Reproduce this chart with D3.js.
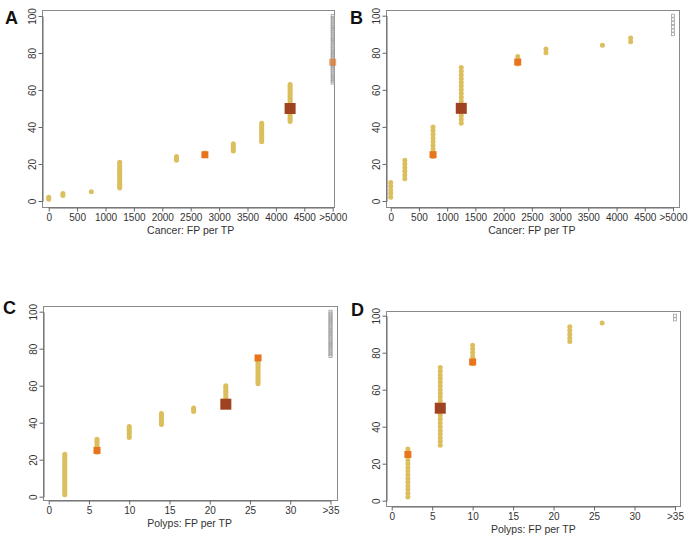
<!DOCTYPE html>
<html>
<head>
<meta charset="utf-8">
<script src="https://cdn.jsdelivr.net/npm/d3@7"></script>
<style>
  body { margin: 0; background: #fff; }
  svg { display: block; }
  .tick text, .xtitle { font-family: "Liberation Sans Narrow", "Arial Narrow", "Liberation Sans", sans-serif; fill: #333; }
  .plabel { font-family: "Liberation Sans", Arial, sans-serif; font-weight: bold; font-size: 18px; fill: #111; }
</style>
</head>
<body>
<svg id="chart"></svg>
<script>
var width = 691;
var height = 540;

// x bins (FP per TP) and the percentiles that fall in each bin
var cancerTicks = [0, 500, 1000, 1500, 2000, 2500, 3000, 3500, 4000, 4500, 5000];
var cancerTickLabels = ["0", "500", "1000", "1500", "2000", "2500", "3000", "3500", "4000", "4500", ">5000"];
var polypTicks = [0, 5, 10, 15, 20, 25, 30, 35];
var polypTickLabels = ["0", "5", "10", "15", "20", "25", "30", ">35"];
var yTicks = [0, 20, 40, 60, 80, 100];

var binsA = [0, 250, 750, 1250, 2250, 2750, 3250, 3750, 4250];
var pctA = [
    [1, 2],
    [3, 4],
    [5],
    [7, 8, 9, 10, 11, 12, 13, 14, 15, 16, 17, 18, 19, 20, 21],
    [22, 23, 24],
    [25, 26],
    [27, 28, 29, 30, 31],
    [32, 33, 34, 35, 36, 37, 38, 39, 40, 41, 42],
    [43, 44, 45, 46, 47, 48, 49, 50, 51, 52, 53, 54, 55, 56, 57, 58, 59, 60, 61, 62, 63]
];
var overA = [64, 65, 66, 67, 68, 69, 70, 71, 72, 73, 74, 75, 76, 77, 78, 79, 80, 81, 82,
             83, 84, 85, 86, 87, 88, 89, 90, 91, 92, 93, 94, 95, 96, 97, 98, 99, 100];
var quartA = [[2750, 25], [4250, 50], [5000, 75]];

var binsB = [0, 250, 750, 1250, 2250, 2750, 3750, 4250];
var pctB = [
    [2, 4, 6, 8, 10],
    [12, 14, 16, 18, 20, 22],
    [24, 26, 28, 30, 32, 34, 36, 38, 40],
    [42, 44, 46, 48, 50, 52, 54, 56, 58, 60, 62, 64, 66, 68, 70, 72],
    [74, 76, 78],
    [80, 82],
    [84],
    [86, 88]
];
var overB = [90, 92, 94, 96, 98, 100];
var quartB = [[750, 25], [1250, 50], [2250, 75]];

var binsC = [2, 6, 10, 14, 18, 22, 26];
var pctC = [
    [1, 2, 3, 4, 5, 6, 7, 8, 9, 10, 11, 12, 13, 14, 15, 16, 17, 18, 19, 20, 21, 22, 23],
    [24, 25, 26, 27, 28, 29, 30, 31],
    [32, 33, 34, 35, 36, 37, 38],
    [39, 40, 41, 42, 43, 44, 45],
    [46, 47, 48],
    [49, 50, 51, 52, 53, 54, 55, 56, 57, 58, 59, 60],
    [61, 62, 63, 64, 65, 66, 67, 68, 69, 70, 71, 72, 73, 74, 75]
];
var overC = [76, 77, 78, 79, 80, 81, 82, 83, 84, 85, 86, 87, 88, 89, 90, 91, 92, 93, 94,
             95, 96, 97, 98, 99, 100];
var quartC = [[6, 25], [22, 50], [26, 75]];

var binsD = [2, 6, 10, 22, 26];
var pctD = [
    [2, 4, 6, 8, 10, 12, 14, 16, 18, 20, 22, 24, 26, 28],
    [30, 32, 34, 36, 38, 40, 42, 44, 46, 48, 50, 52, 54, 56, 58, 60, 62, 64, 66, 68, 70, 72],
    [74, 76, 78, 80, 82, 84],
    [86, 88, 90, 92, 94],
    [96]
];
var overD = [98, 100];
var quartD = [[2, 25], [6, 50], [10, 75]];

var dotColor = "#dbbf5e";
var orange = "#e8741e";
var brown = "#9e4220";

var svg = d3.select("#chart")
    .attr("width", width)
    .attr("height", height);

function drawPanel(p) {
    var xScale = d3.scaleLinear().domain([0, p.xMax]).range(p.xRange);
    var yScale = d3.scaleLinear().domain([0, 100]).range(p.yRange);
    var g = svg.append("g");

    // frame
    g.append("rect")
        .attr("x", p.frame[0] + 0.5)
        .attr("y", p.frame[1] + 0.5)
        .attr("width", p.frame[2] - p.frame[0])
        .attr("height", p.frame[3] - p.frame[1])
        .attr("fill", "none")
        .attr("stroke", "#8a8a8a")
        .attr("stroke-width", 1);

    var xAxis = d3.axisBottom(xScale)
        .tickValues(p.ticks)
        .tickFormat((d, i) => p.tickLabels[i])
        .tickSize(4)
        .tickSizeOuter(0)
        .tickPadding(p.tickPad);
    var xg = g.append("g")
        .attr("transform", "translate(0," + (p.frame[3] + 0.5) + ")")
        .call(xAxis);
    xg.selectAll("text").style("font-size", "10px");

    var yAxis = d3.axisLeft(yScale)
        .tickValues(yTicks)
        .tickSize(4)
        .tickSizeOuter(0);
    var yg = g.append("g")
        .attr("transform", "translate(" + (p.frame[0] + 0.5) + ",0)")
        .call(yAxis);
    yg.selectAll("text")
        .attr("transform", "rotate(-90)")
        .attr("x", 0)
        .attr("y", -7)
        .attr("dy", 0)
        .style("text-anchor", "middle")
        .style("font-size", "10px");

    g.selectAll(".domain, .tick line").attr("stroke", "#666");

    g.append("text")
        .attr("class", "xtitle")
        .attr("x", (p.xRange[0] + p.xRange[1]) / 2)
        .attr("y", p.titleY)
        .style("text-anchor", "middle")
        .style("font-size", "10.5px")
        .text(p.title);

    g.append("text")
        .attr("class", "plabel")
        .attr("x", p.label[1])
        .attr("y", p.label[2])
        .text(p.label[0]);

    // percentile dots per bin
    var pts = [];
    p.bins.forEach((b, i) => p.pct[i].forEach(v => pts.push([b, v])));
    g.selectAll("circle.dot")
        .data(pts)
        .enter()
        .append("circle")
            .attr("class", "dot")
            .attr("cx", d => xScale(d[0]))
            .attr("cy", d => yScale(d[1]))
            .attr("r", 2.5)
            .attr("fill", dotColor);

    // beyond the axis range
    g.selectAll("rect.over")
        .data(p.over)
        .enter()
        .append("rect")
            .attr("class", "over")
            .attr("x", xScale(p.xMax) - 1.5)
            .attr("y", d => yScale(d) - 1.5)
            .attr("width", 3)
            .attr("height", 3)
            .attr("fill", "none")
            .attr("stroke", "#a0a0a0")
            .attr("stroke-width", 0.8);

    // quartile markers
    g.selectAll("rect.q")
        .data(p.quart)
        .enter()
        .append("rect")
            .attr("class", "q")
            .attr("x", d => xScale(d[0]) - (d[1] === 50 ? 5.5 : 3.5))
            .attr("y", d => yScale(d[1]) - (d[1] === 50 ? 5.5 : 3.5))
            .attr("width", d => d[1] === 50 ? 11 : 7)
            .attr("height", d => d[1] === 50 ? 11 : 7)
            .attr("fill", d => d[1] === 50 ? brown : orange)
            .attr("opacity", d => d[0] === p.xMax ? 0.65 : 1);
}

drawPanel({
    bins: binsA, pct: pctA, over: overA, quart: quartA,
    xMax: 5000, ticks: cancerTicks, tickLabels: cancerTickLabels,
    frame: [42, 10, 334, 207], xRange: [48.7, 332.7], yRange: [201, 16],
    title: "Cancer: FP per TP", titleY: 234, tickPad: 2, label: ["A", 5, 24]
});
drawPanel({
    bins: binsB, pct: pctB, over: overB, quart: quartB,
    xMax: 5000, ticks: cancerTicks, tickLabels: cancerTickLabels,
    frame: [386, 10, 679, 207], xRange: [390.7, 673], yRange: [201, 15.7],
    title: "Cancer: FP per TP", titleY: 234, tickPad: 2, label: ["B", 350, 24]
});
drawPanel({
    bins: binsC, pct: pctC, over: overC, quart: quartC,
    xMax: 35, ticks: polypTicks, tickLabels: polypTickLabels,
    frame: [43, 306, 337, 500], xRange: [48.7, 330.5], yRange: [496.7, 311.7],
    title: "Polyps: FP per TP", titleY: 527, tickPad: 2, label: ["C", 3, 314]
});
drawPanel({
    bins: binsD, pct: pctD, over: overD, quart: quartD,
    xMax: 35, ticks: polypTicks, tickLabels: polypTickLabels,
    frame: [386, 311, 680, 506], xRange: [391.7, 675], yRange: [500.7, 315.7],
    title: "Polyps: FP per TP", titleY: 533, tickPad: 2, label: ["D", 351, 316]
});
</script>
</body>
</html>
